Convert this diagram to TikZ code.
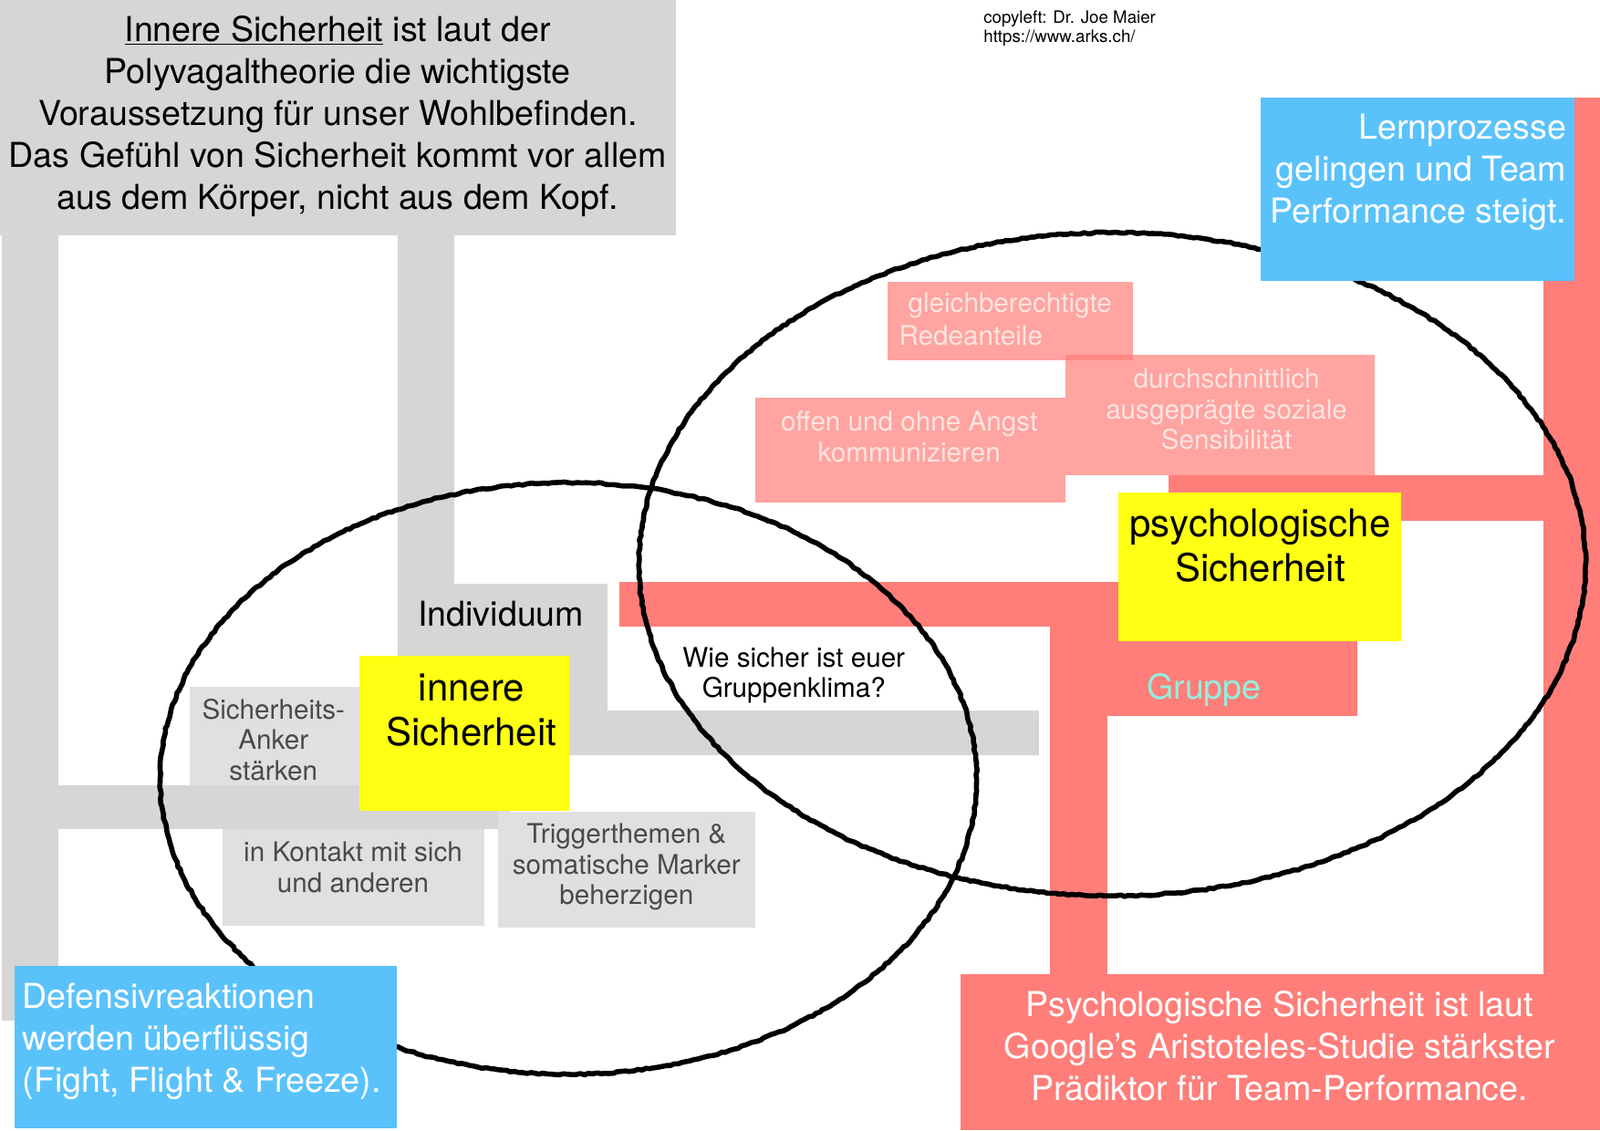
\documentclass[tikz,border=0pt]{standalone}
\usepackage{fontspec}
\setmainfont{TeX Gyre Heros}
\usetikzlibrary{decorations.pathmorphing}
\definecolor{gbar}{HTML}{D6D6D6}
\definecolor{gbox}{HTML}{E0E0E0}
\definecolor{redc}{HTML}{FF7E79}
\definecolor{pinktext}{HTML}{FDE4E1}
\definecolor{bluec}{HTML}{5AC2FB}
\definecolor{yelc}{HTML}{FFFF14}
\definecolor{mintc}{HTML}{93EEDE}
\definecolor{dgray}{HTML}{4A4A4A}
\newcommand\fsBig{\fontsize{33.6}{41}\selectfont}
\newcommand\fsYel{\fontsize{37.5}{44}\selectfont}
\newcommand\fsMid{\fontsize{26.5}{30}\selectfont}
\newcommand\fsSmall{\fontsize{16.7}{19}\selectfont}
\tikzset{
  barg/.style={fill=gbar},
  boxg/.style={fill=gbox},
  barr/.style={fill=redc},
  pinkbox/.style={fill=redc, fill opacity=0.7},
  yelbox/.style={fill=yelc},
  bluebox/.style={fill=bluec},
  txt/.style={inner sep=0pt, outer sep=0pt},
  tbig/.style={txt, font=\fsBig},
  tyel/.style={txt, font=\fsYel},
  tmid/.style={txt, font=\fsMid},
  tsmall/.style={txt, font=\fsSmall},
  chalk/.style={draw=black, line width=5pt, line join=round,
    decorate, decoration={random steps, segment length=4pt, amplitude=0.8pt}},
}
\begin{document}
\begin{tikzpicture}[x=1pt,y=-1pt]
\useasboundingbox (0,0) rectangle (1568,1108);
\fill[white] (0,0) rectangle (1568,1108);
% grey structure
\fill[barg] (0,0) rectangle (662,231);
\fill[barg] (2,231) rectangle (57,1000);
\fill[barg] (390,231) rectangle (445,572);
\fill[barg] (390,572) rectangle (595,740);
\fill[barg] (595,696) rectangle (1018,740);
\fill[barg] (57,770) rectangle (500,813);
\fill[boxg] (186,673) rectangle (352,770);
\fill[boxg] (218,813) rectangle (475,907);
\fill[boxg] (488,796) rectangle (740,909);
% red structure
\fill[barr] (607,570) rectangle (1085,614);
\fill[barr] (1029,570) rectangle (1085,955);
\fill[barr] (1029,570) rectangle (1330,702);
\fill[barr] (1145,466) rectangle (1513,510);
\fill[barr] (1513,96) rectangle (1568,955);
\fill[barr] (941,955) rectangle (1568,1108);
% pink boxes
\fill[pinkbox] (870,276) rectangle (1110,353);
\fill[pinkbox] (1044,348) rectangle (1347,466);
\fill[pinkbox] (740,390) rectangle (1044,493);
% yellow
\fill[yelbox] (352,643) rectangle (558,795);
\fill[yelbox] (1096,483) rectangle (1373,628);

% texts
\node[tbig, align=center] (title) at (331,114) {\underline{Innere Sicherheit} ist laut der\\Polyvagaltheorie die wichtigste\\Voraussetzung für unser Wohlbefinden.\\Das Gefühl von Sicherheit kommt vor allem\\aus dem Körper, nicht aus dem Kopf.};
\node[tsmall, align=left, anchor=west] (copy) at (964,28) {copyleft: Dr. Joe Maier\\https://www.arks.ch/};
\node[tmid, anchor=west, text=pinktext] (gleichA) at (890,299) {gleichberechtigte};
\node[tmid, anchor=west, text=pinktext] (gleichB) at (881,329) {Redeanteile};
\node[tmid, align=center, text=pinktext] (durch) at (1202,401) {durchschnittlich\\ausgeprägte soziale\\Sensibilität};
\node[tmid, align=center, text=pinktext] (offen) at (891,428) {offen und ohne Angst\\kommunizieren};
\node[tyel, align=center] (psych) at (1235,535) {psychologische\\Sicherheit};
\node[tbig] (indiv) at (491,602) {Individuum};
\node[tmid, align=center] (wie) at (778,662) {Wie sicher ist euer\\Gruppenklima?};
\node[tyel, align=center] (innere) at (462,696) {innere\\Sicherheit};
\node[tbig, text=mintc] (gruppe) at (1180,676) {Gruppe};
\node[tmid, align=center, text=dgray] (anker) at (268,725) {Sicherheits-\\Anker\\stärken};
\node[tmid, align=center, text=dgray] (kontakt) at (346,850) {in Kontakt mit sich\\und anderen};
\node[tmid, align=center, text=dgray] (trigger) at (614,850) {Triggerthemen \&\\somatische Marker\\beherzigen};
\node[tbig, align=center, text=white] (studie) at (1254,1025) {Psychologische Sicherheit ist laut\\Google’s Aristoteles-Studie stärkster\\Prädiktor für Team-Performance.};

% hand-drawn ellipses
\draw[chalk] (1090,553) ellipse [x radius=464pt, y radius=325pt];
\draw[chalk] (557,763) ellipse [x radius=400pt, y radius=290pt];

% blue boxes on top
\fill[bluebox] (1235,96) rectangle (1543,275);
\node[tbig, align=right, anchor=east, text=white] (lern) at (1535,169) {Lernprozesse\\gelingen und Team\\Performance steigt.};
\fill[bluebox] (14,947) rectangle (389,1106);
\node[tbig, align=left, anchor=west, text=white] (defens) at (22,1021) {Defensivreaktionen\\werden überflüssig\\(Fight, Flight \& Freeze).};
\end{tikzpicture}
\end{document}
